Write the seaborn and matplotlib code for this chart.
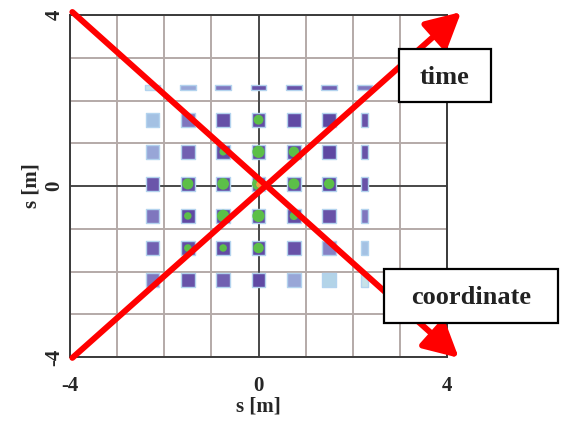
import numpy as np
import pandas as pd
import matplotlib
matplotlib.use("Agg")
import matplotlib.pyplot as plt
import seaborn as sns
from matplotlib.colors import LinearSegmentedColormap
from matplotlib.patches import Rectangle

# ---------------- data ----------------
xs = [-2.25, -1.5, -0.75, 0.0, 0.75, 1.5, 2.25]
ys = [2.3, 1.55, 0.8, 0.05, -0.7, -1.45, -2.2]
# outer intensity (0 faint -> 1 dark purple), rows top->bottom
outer = [
    [0.10, 0.40, 0.60, 0.80, 0.80, 0.70, 0.60],
    [0.30, 0.60, 0.85, 0.90, 0.95, 1.00, 0.80],
    [0.40, 0.70, 0.90, 0.90, 0.95, 1.00, 0.80],
    [0.75, 0.90, 0.90, 0.80, 0.85, 1.00, 0.80],
    [0.60, 0.95, 0.95, 0.90, 0.90, 0.80, 0.60],
    [0.70, 0.90, 0.90, 0.95, 0.80, 0.55, 0.30],
    [0.60, 0.80, 0.70, 0.95, 0.40, 0.20, 0.10],
]
# green core strength
core = [
    [0.0, 0.0, 0.0, 0.0, 0.0, 0.0, 0.0],
    [0.0, 0.0, 0.0, 0.5, 0.0, 0.0, 0.0],
    [0.0, 0.0, 0.2, 0.9, 0.6, 0.0, 0.0],
    [0.0, 0.7, 0.8, 1.0, 0.7, 0.6, 0.0],
    [0.0, 0.2, 0.9, 0.9, 0.3, 0.0, 0.0],
    [0.0, 0.2, 0.2, 0.6, 0.0, 0.0, 0.0],
    [0.0, 0.0, 0.0, 0.0, 0.0, 0.0, 0.0],
]
hot_x = [0.0]
hot_y = [0.05]
tick_vals = [-4, -3, -2, -1, 0, 1, 2, 3, 4]
tick_labels = ["-4", "", "", "", "0", "", "", "", "4"]
time_arrow = ((-3.95, -4.02), (4.3, 4.07))
coord_arrow = ((-3.95, 4.07), (4.25, -4.02))
axis_label = "s [m]"
label_time = "time"
label_coord = "coordinate"

# ---------------- build table ----------------
rows = []
for i, yv in enumerate(ys):
    for j, xv in enumerate(xs):
        if i == 0:
            shape = "wide"
        elif j == len(xs) - 1:
            shape = "tall"
        else:
            shape = "sq"
        rows.append(dict(x=xv, y=yv, outer=outer[i][j], core=core[i][j], shape=shape))
df = pd.DataFrame(rows)

sns.set_style("white")
plt.rcParams["font.family"] = ["Liberation Serif", "DejaVu Serif"]
plt.rcParams["font.weight"] = "bold"

fig = plt.figure(figsize=(5.63, 4.22), dpi=100)
ax = fig.add_axes([70 / 563, 1 - 357 / 422, 377 / 563, 342 / 422])

cmap = LinearSegmentedColormap.from_list(
    "blobs", ["#dcefe8", "#a9cde8", "#8d8ccc", "#6a55aa", "#5e48a2"])

wide_m = [(-1, -0.32), (1, -0.32), (1, 0.32), (-1, 0.32), (-1, -0.32)]
tall_m = [(-0.55, -1), (0.55, -1), (0.55, 1), (-0.55, 1), (-0.55, -1)]
shape_spec = {"sq": ("s", 95), "wide": (wide_m, 125), "tall": (tall_m, 105)}

for shp, (mk, sz) in shape_spec.items():
    sub = df[df["shape"] == shp]
    sns.scatterplot(data=sub, x="x", y="y", hue="outer", palette=cmap,
                    hue_norm=(0, 1), marker=mk, s=sz, edgecolor="#b3d3ee",
                    linewidth=1.0, legend=False, ax=ax, zorder=3)

cores = df[df["core"] > 0]
sns.scatterplot(data=cores, x="x", y="y", size="core", sizes=(15, 85),
                size_norm=(0, 1), color="#5cbf48", edgecolor="none",
                marker="o", legend=False, ax=ax, zorder=4)
ax.scatter(hot_x, hot_y, s=14, color="#f0a048", zorder=5)

# grid
ax.set_xlim(-4, 4)
ax.set_ylim(-4, 4)
ax.set_xticks(tick_vals)
ax.set_yticks(tick_vals)
ax.set_xticklabels(tick_labels)
ax.set_yticklabels(tick_labels, rotation=90, va="center")
ax.grid(True, color="#b4aaa8", linewidth=1.4, zorder=1)
ax.set_axisbelow(True)
ax.axvline(0, color="#4a4a4a", linewidth=1.4, zorder=2)
ax.axhline(0, color="#4a4a4a", linewidth=1.4, zorder=2)
for sp in ax.spines.values():
    sp.set_color("#3a3a3a")
    sp.set_linewidth(1.4)
ax.tick_params(length=0, labelsize=15)
ax.tick_params(axis="x", pad=14)
ax.tick_params(axis="y", pad=4)
ax.set_xlabel(axis_label, fontsize=15, fontweight="bold", labelpad=0)
ax.set_ylabel(axis_label, fontsize=15, fontweight="bold", labelpad=2)

# red arrows
for (start, end) in (time_arrow, coord_arrow):
    ax.annotate("", xy=end, xytext=start, annotation_clip=False,
                arrowprops=dict(arrowstyle="-|>,head_length=2.1,head_width=1.1",
                                mutation_scale=10, lw=4.3, color="#ff0000",
                                shrinkA=0, shrinkB=0), zorder=6)

# label boxes
fig.patches.append(Rectangle((399 / 563, 1 - 102 / 422), 92 / 563, 53 / 422,
                             transform=fig.transFigure, facecolor="white",
                             edgecolor="black", linewidth=1.6, zorder=10))
fig.patches.append(Rectangle((384 / 563, 1 - 323 / 422), 174 / 563, 54 / 422,
                             transform=fig.transFigure, facecolor="white",
                             edgecolor="black", linewidth=1.6, zorder=10))
fig.text(445 / 563, 1 - 77 / 422, label_time, ha="center", va="center",
         fontsize=19, fontweight="bold", color="#222222", zorder=11)
fig.text(471 / 563, 1 - 298 / 422, label_coord, ha="center", va="center",
         fontsize=19, fontweight="bold", color="#222222", zorder=11)

fig.savefig("out.png", dpi=100)
